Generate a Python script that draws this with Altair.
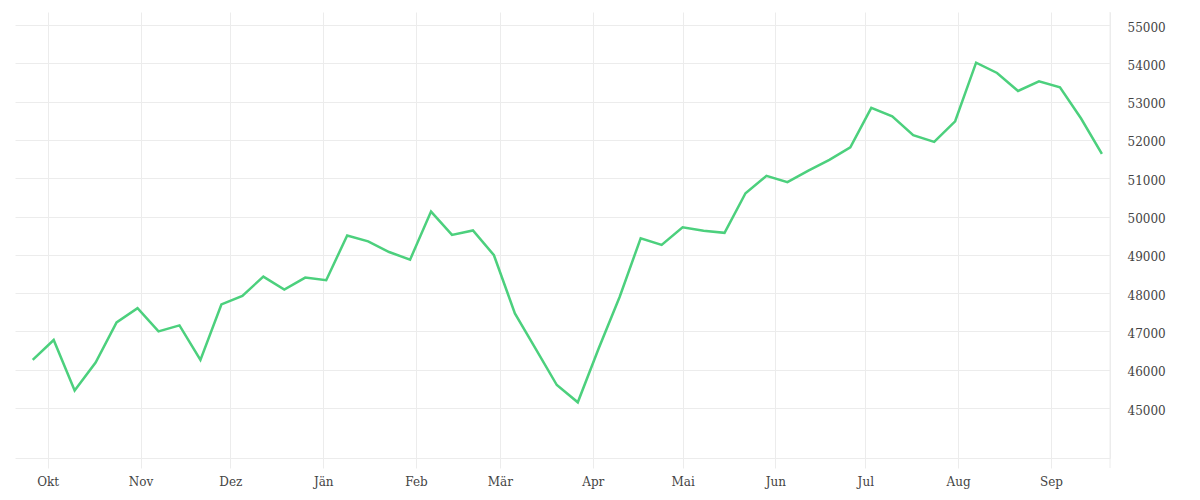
import altair as alt
import pandas as pd

dates = pd.date_range("2022-09-26", periods=52, freq="7D").strftime("%Y-%m-%d").tolist()
values = [
    46256, 46776, 45459, 46187, 47236, 47608, 47002, 47158, 46256, 47704,
    47929, 48431, 48093, 48405, 48336, 49506, 49350, 49073, 48873, 50130,
    49520, 49635, 48990, 47472, 46540, 45600, 45149, 46561, 47906, 49433,
    49258, 49720, 49626, 49574, 50609, 51061, 50896, 51200, 51478, 51809,
    52835, 52617, 52122, 51948, 52487, 54017, 53748, 53278, 53530, 53374,
    52565, 51635,
]
month_names = ["Jän", "Feb", "Mär", "Apr", "Mai", "Jun", "Jul", "Aug", "Sep", "Okt", "Nov", "Dez"]
y_ticks = [45000, 46000, 47000, 48000, 49000, 50000, 51000, 52000, 53000, 54000, 55000]

df = pd.DataFrame({"date": dates, "value": values})

FONT = "DejaVu Serif"
GRID = "#ececec"
W, H = 1095, 446

label_expr = "[" + ",".join("'" + m + "'" for m in month_names) + "][utcmonth(datum.value)]"

x_enc = alt.X(
    "date:T",
    scale=alt.Scale(
        type="utc",
        domain=[
            alt.DateTime(year=2022, month=9, date=20, hours=2, utc=True),
            alt.DateTime(year=2023, month=9, date=20, hours=17, utc=True),
        ],
    ),
    axis=alt.Axis(
        title=None,
        tickCount={"interval": "month", "step": 1},
        labelExpr=label_expr,
        grid=True,
        gridColor=GRID,
        tickColor=GRID,
        tickSize=10,
        domainColor=GRID,
        labelFont=FONT,
        labelFontSize=12,
        labelColor="#444444",
        labelPadding=8,
        labelFlush=False,
        labelOverlap=False,
    ),
)

y_enc = alt.Y(
    "value:Q",
    scale=alt.Scale(domain=[43695, 55340], nice=False, zero=False),
    axis=alt.Axis(
        title=None,
        orient="right",
        values=y_ticks,
        format="d",
        grid=True,
        gridColor=GRID,
        ticks=False,
        domain=True,
        domainColor=GRID,
        labelFont=FONT,
        labelFontSize=12,
        labelColor="#444444",
        labelPadding=17,
        labelOffset=2,
    ),
)

line = alt.Chart(df).mark_line(color="#4cd07d", strokeWidth=2.5).encode(x=x_enc, y=y_enc)

edge = alt.Chart(pd.DataFrame({"k": [0]})).mark_rule(color=GRID, strokeWidth=1).encode(
    x=alt.value(W), y=alt.value(0), y2=alt.value(H + 10)
)

chart = (
    alt.layer(line, edge)
    .properties(width=W, height=H, padding={"left": 7, "top": 3, "right": 5, "bottom": 5}, background="white")
    .configure_view(stroke=None)
)

chart.save("out.html", embed_options={"renderer": "svg", "actions": False})
